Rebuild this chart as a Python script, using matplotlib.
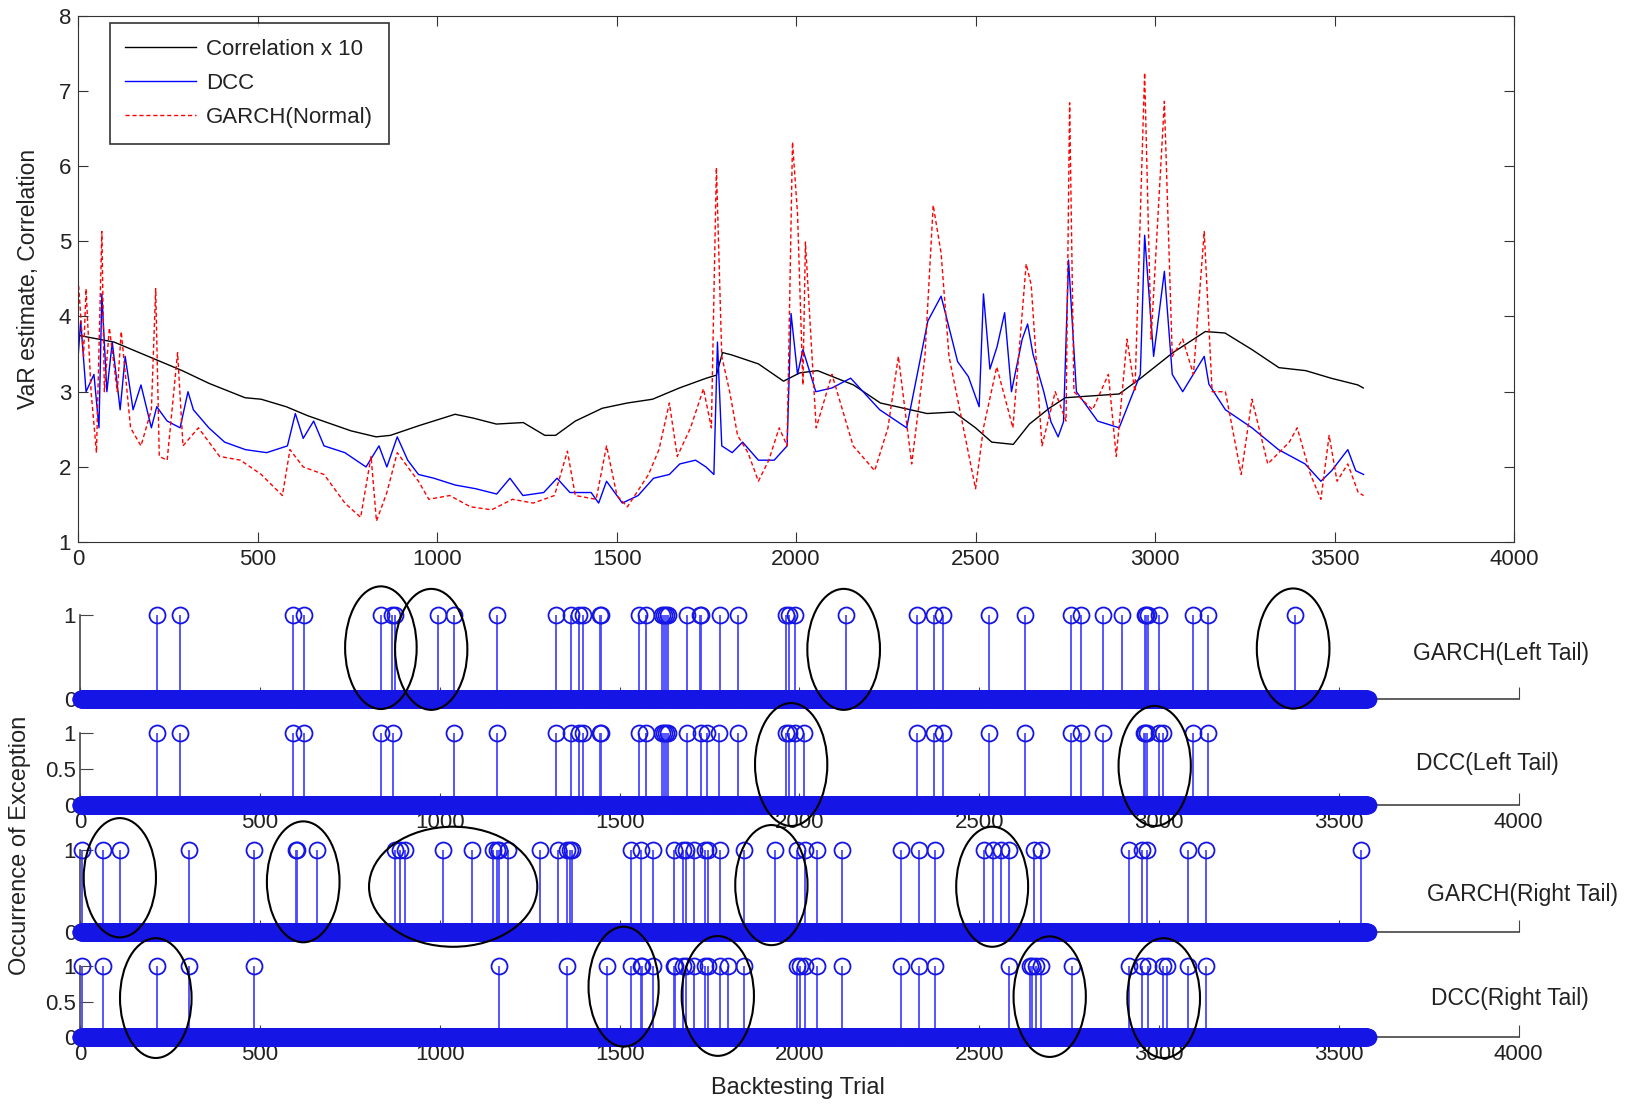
import numpy as np
import matplotlib
matplotlib.use("Agg")
import matplotlib.pyplot as plt
from matplotlib.patches import Ellipse

plt.rcParams['font.family'] = ['Liberation Sans', 'DejaVu Sans']

# ---- top panel: VaR estimates and correlation
corr_trial = [0, 100, 220, 290, 365, 465, 510, 580, 640, 700, 760, 830, 870, 950, 1050,
              1100, 1165, 1240, 1300, 1330, 1385, 1460, 1530, 1600, 1675, 1750, 1778, 1795,
              1820, 1895, 1965, 2010, 2060, 2160, 2235, 2365, 2440, 2500, 2545, 2605, 2650,
              2705, 2750, 2900, 2960, 3050, 3140, 3195, 3270, 3345, 3420, 3490, 3565, 3580]
corr_val = [3.75, 3.66, 3.42, 3.28, 3.11, 2.92, 2.90, 2.80, 2.68, 2.58, 2.48, 2.40, 2.42,
            2.55, 2.70, 2.65, 2.57, 2.59, 2.42, 2.42, 2.61, 2.78, 2.85, 2.90, 3.05, 3.18,
            3.22, 3.52, 3.49, 3.37, 3.14, 3.25, 3.28, 3.09, 2.85, 2.71, 2.73, 2.52, 2.33,
            2.30, 2.57, 2.78, 2.92, 2.97, 3.18, 3.52, 3.80, 3.78, 3.56, 3.32, 3.28, 3.18,
            3.09, 3.05]

dcc_trial = [0, 7, 22, 44, 58, 66, 80, 95, 117, 131, 153, 175, 204, 219, 248, 284, 306,
             321, 364, 408, 466, 525, 583, 605, 627, 656, 685, 743, 802, 838, 860, 889,
             918, 948, 991, 1050, 1108, 1166, 1203, 1239, 1297, 1334, 1370, 1429, 1450,
             1472, 1516, 1560, 1603, 1647, 1676, 1720, 1749, 1771, 1781, 1793, 1822, 1851,
             1895, 1939, 1975, 1986, 2004, 2019, 2055, 2100, 2152, 2233, 2308, 2367, 2404,
             2450, 2480, 2510, 2522, 2540, 2560, 2581, 2600, 2630, 2645, 2660, 2690, 2710,
             2730, 2745, 2759, 2781, 2840, 2900, 2959, 2971, 2996, 3026, 3048, 3077, 3137,
             3150, 3196, 3270, 3344, 3418, 3462, 3492, 3537, 3559, 3581]
dcc_val = [3.47, 3.94, 3.00, 3.23, 2.52, 4.30, 3.00, 3.66, 2.76, 3.47, 2.76, 3.09, 2.52,
           2.80, 2.61, 2.52, 3.00, 2.76, 2.52, 2.33, 2.23, 2.19, 2.28, 2.71, 2.38, 2.61,
           2.28, 2.19, 2.00, 2.28, 2.00, 2.40, 2.09, 1.90, 1.85, 1.76, 1.71, 1.64, 1.85,
           1.62, 1.66, 1.85, 1.66, 1.66, 1.52, 1.81, 1.52, 1.62, 1.85, 1.90, 2.04, 2.09,
           2.00, 1.90, 3.66, 2.28, 2.19, 2.33, 2.09, 2.09, 2.28, 4.04, 3.23, 3.56, 3.00,
           3.05, 3.18, 2.76, 2.52, 3.94, 4.27, 3.40, 3.20, 2.80, 4.30, 3.30, 3.60, 4.05,
           3.00, 3.70, 3.90, 3.50, 3.00, 2.60, 2.40, 2.60, 4.75, 3.00, 2.61, 2.52, 3.23,
           5.08, 3.47, 4.60, 3.23, 3.00, 3.47, 3.10, 2.76, 2.52, 2.23, 2.04, 1.81, 1.95,
           2.23, 1.95, 1.90]

garch_trial = [0, 15, 22, 36, 51, 66, 73, 87, 109, 120, 146, 175, 204, 216, 226, 248, 277,
               292, 335, 394, 452, 510, 569, 590, 627, 685, 743, 787, 816, 831, 860, 889,
               918, 948, 977, 1035, 1093, 1152, 1210, 1268, 1327, 1363, 1385, 1443, 1472,
               1501, 1530, 1589, 1618, 1647, 1669, 1706, 1742, 1764, 1778, 1793, 1815, 1837,
               1866, 1895, 1924, 1953, 1975, 1990, 2004, 2019, 2026, 2056, 2100, 2159, 2219,
               2256, 2285, 2322, 2359, 2382, 2404, 2426, 2456, 2500, 2522, 2559, 2604, 2641,
               2655, 2685, 2722, 2752, 2762, 2774, 2826, 2870, 2892, 2922, 2944, 2971, 2989,
               3026, 3048, 3077, 3107, 3137, 3159, 3196, 3240, 3270, 3314, 3374, 3396, 3433,
               3462, 3485, 3507, 3537, 3566, 3581]
garch_val = [4.50, 3.47, 4.37, 3.00, 2.19, 5.13, 3.00, 3.85, 3.00, 3.80, 2.52, 2.28, 2.76,
             4.37, 2.14, 2.09, 3.52, 2.28, 2.52, 2.14, 2.09, 1.90, 1.62, 2.23, 2.00, 1.90,
             1.52, 1.33, 2.14, 1.28, 1.66, 2.19, 2.00, 1.81, 1.57, 1.62, 1.47, 1.43, 1.57,
             1.52, 1.62, 2.21, 1.62, 1.57, 2.28, 1.62, 1.47, 1.90, 2.23, 2.85, 2.14, 2.52,
             3.04, 2.52, 5.98, 3.47, 3.00, 2.42, 2.19, 1.81, 2.09, 2.52, 2.28, 6.32, 5.37,
             3.09, 4.99, 2.52, 3.23, 2.28, 1.95, 2.52, 3.47, 2.04, 3.47, 5.48, 4.84, 3.47,
             2.76, 1.71, 2.52, 3.33, 2.52, 4.70, 4.42, 2.28, 3.00, 2.61, 6.84, 3.00, 2.76,
             3.23, 2.14, 3.70, 3.00, 7.24, 3.70, 6.86, 3.47, 3.70, 3.23, 5.13, 3.00, 3.00,
             1.90, 2.90, 2.04, 2.33, 2.52, 1.90, 1.57, 2.42, 1.81, 2.04, 1.66, 1.62]

# ---- exception trials (value 1), all other trials are 0
n_trials = 3580
garch_left = [213, 276, 591, 622, 836, 868, 874, 994, 1038, 1160, 1323, 1364, 1386, 1398,
              1446, 1449, 1555, 1572, 1617, 1623, 1628, 1634, 1688, 1724, 1727, 1779, 1830,
              1962, 1972, 1988, 2129, 2326, 2373, 2398, 2526, 2628, 2755, 2783, 2845, 2896,
              2961, 2965, 2968, 2999, 3094, 3135, 3378]
dcc_left = [213, 276, 591, 622, 836, 871, 1038, 1160, 1323, 1364, 1386, 1398, 1446, 1449,
            1555, 1572, 1617, 1623, 1628, 1634, 1688, 1726, 1742, 1777, 1830, 1962, 1972,
            1988, 2013, 2326, 2373, 2398, 2526, 2628, 2755, 2783, 2845, 2957, 2961, 2966,
            2999, 3012, 3094, 3135]
garch_right = [4, 64, 111, 303, 484, 600, 603, 658, 875, 889, 903, 1008, 1089, 1149, 1158,
               1165, 1189, 1278, 1328, 1353, 1362, 1367, 1532, 1559, 1594, 1650, 1675, 1685,
               1708, 1738, 1747, 1779, 1847, 1932, 1993, 2016, 2048, 2119, 2283, 2333, 2378,
               2514, 2537, 2561, 2583, 2653, 2672, 2917, 2952, 2966, 3080, 3130, 3561]
dcc_right = [4, 64, 214, 303, 484, 1165, 1353, 1466, 1532, 1559, 1562, 1594, 1650, 1655,
             1675, 1685, 1708, 1738, 1747, 1779, 1800, 1847, 1993, 2001, 2016, 2048, 2119,
             2283, 2333, 2378, 2583, 2642, 2648, 2657, 2672, 2759, 2917, 2952, 2970, 3012,
             3021, 3080, 3130]

panel_names = ['GARCH(Left Tail)', 'DCC(Left Tail)', 'GARCH(Right Tail)', 'DCC(Right Tail)']
panel_hits = [garch_left, dcc_left, garch_right, dcc_right]

# hand-drawn highlight ellipses: (panel, trial centre, y centre, width in trials, height)
circles = [(0, 836, 0.61, 199, 1.46), (0, 976, 0.59, 201, 1.44), (0, 2123, 0.59, 202, 1.44),
           (0, 3373, 0.60, 202, 1.43), (1, 1977, 0.56, 201, 1.70), (1, 2988, 0.54, 201, 1.66),
           (2, 110, 0.66, 201, 1.46), (2, 620, 0.61, 202, 1.48), (2, 1037, 0.55, 468, 1.47),
           (2, 1922, 0.57, 201, 1.47), (2, 2536, 0.55, 200, 1.47), (3, 210, 0.55, 199, 1.68),
           (3, 1511, 0.71, 195, 1.68), (3, 1773, 0.58, 201, 1.68), (3, 2696, 0.57, 201, 1.69),
           (3, 3013, 0.55, 202, 1.68)]

txt = '#222222'
fig = plt.figure(figsize=(16.35, 11.04), dpi=100)

# top panel
ax = fig.add_axes([0.0478, 0.5089, 0.8782, 0.4770])
ax.plot(corr_trial, corr_val, color='black', lw=1.0, label='Correlation x 10')
ax.plot(dcc_trial, dcc_val, color='#0000ff', lw=1.0, label='DCC')
ax.plot(garch_trial, garch_val, color='#ff0000', lw=1.0, ls=(0, (3, 2)), label='GARCH(Normal)')
ax.set_xlim(0, 4000)
ax.set_ylim(1, 8)
ax.set_xticks(range(0, 4001, 500))
ax.set_yticks(range(1, 9))
ax.tick_params(direction='in', top=True, right=True, length=7, labelsize=16,
               colors='#333333', labelcolor=txt, pad=5)
for s in ax.spines.values():
    s.set_color('#333333')
ax.set_ylabel('VaR estimate, Correlation', fontsize=16.5, color=txt)
ax.yaxis.set_label_coords(-0.0265, 0.5)
leg = ax.legend(loc='upper left', bbox_to_anchor=(0.0219, 0.9858), borderaxespad=0,
                fontsize=16, fancybox=False, edgecolor='black', handlelength=3.2,
                handletextpad=0.45, labelspacing=0.6, borderpad=0.7)
leg.get_frame().set_linewidth(1.2)
for t in leg.get_texts():
    t.set_color(txt)

# stem panels
trials = np.arange(1, n_trials + 1)
boxes = [[0.0491, 0.3669, 0.8797, 0.0761],
         [0.0491, 0.2708, 0.8797, 0.0655],
         [0.0491, 0.1561, 0.8797, 0.0740],
         [0.0491, 0.0604, 0.8797, 0.0646]]
label_pos = [(3951, 0.54), (3914, 0.57), (4010, 0.46), (3976, 0.54)]
axes = []
for i, (box, hits, name) in enumerate(zip(boxes, panel_hits, panel_names)):
    a = fig.add_axes(box)
    occ = np.zeros(n_trials)
    occ[np.array(hits) - 1] = 1
    ml, sl, bl = a.stem(trials, occ, linefmt='-', markerfmt='o', basefmt=' ')
    sl.set_color('#4848ff')
    sl.set_linewidth(1.3)
    sl.set_clip_on(False)
    ml.set_markerfacecolor('none')
    ml.set_markeredgecolor('#1515e6')
    ml.set_markersize(11.5)
    ml.set_markeredgewidth(1.3)
    ml.set_clip_on(False)
    a.set_xlim(0, 4000)
    a.set_ylim(0, 1)
    a.set_xticks(range(0, 4001, 500))
    if i in (1, 3):
        a.set_yticks([0, 0.5, 1])
        a.set_yticklabels(['0', '0.5', '1'])
    else:
        a.set_yticks([0, 1])
        a.set_yticklabels(['0', '1'])
        a.tick_params(axis='x', labelbottom=False)
    a.spines['top'].set_visible(False)
    a.spines['right'].set_visible(False)
    for s in ('left', 'bottom'):
        a.spines[s].set_color('#444444')
        a.spines[s].set_linewidth(1.2)
        a.spines[s].set_zorder(0)
    a.tick_params(direction='in', length=9, labelsize=16, colors='#444444',
                  labelcolor=txt, pad=3)
    a.tick_params(axis='x', pad=5)
    a.patch.set_visible(False)
    a.text(label_pos[i][0], label_pos[i][1], name, fontsize=16.5, color=txt,
           ha='center', va='center', clip_on=False)
    axes.append(a)

for p, xc, yc, w, h in circles:
    axes[p].add_patch(Ellipse((xc, yc), w, h, fill=False, edgecolor='black', lw=1.5,
                              clip_on=False, zorder=5))

fig.text(0.0125, 0.2346, 'Occurrence of Exception', rotation=90, fontsize=17,
         color=txt, ha='center', va='center')
fig.text(0.488, 0.0145, 'Backtesting Trial', fontsize=17, color=txt,
         ha='center', va='center')

fig.savefig('out.png', dpi=100)
